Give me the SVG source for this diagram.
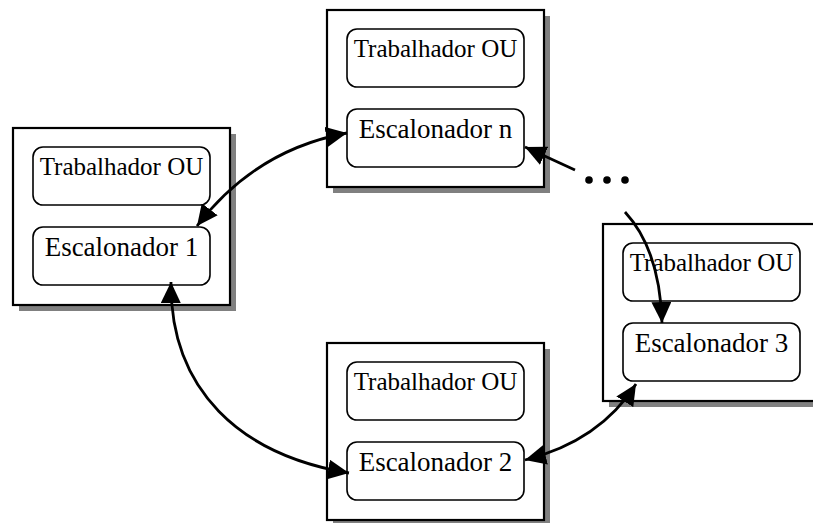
<svg xmlns="http://www.w3.org/2000/svg" width="813" height="523" viewBox="0 0 813 523">
  <defs>
    <style>
      .shadow { fill: #808080; stroke: none; }
      .frame { fill: #ffffff; stroke: #000000; stroke-width: 2.2; }
      .inner { fill: #ffffff; stroke: #000000; stroke-width: 1.6; }
      .worker { font-family: "Liberation Serif", "Times New Roman", serif; font-size: 25px; fill: #000000; text-anchor: middle; }
      .sched { font-family: "Liberation Serif", "Times New Roman", serif; font-size: 27px; fill: #000000; text-anchor: middle; }
      .link { fill: none; stroke: #000000; stroke-width: 2.8; }
      .dot { fill: #000000; }
    </style>
    <marker id="arrow" markerUnits="userSpaceOnUse" markerWidth="22" markerHeight="20" refX="21" refY="10" orient="auto-start-reverse">
      <path d="M0,0 L21,10 L0,20 Z" fill="#000000"/>
    </marker>
    <!-- one machine: framed block with a worker and a scheduler -->
    <g id="machine">
      <rect class="shadow" x="6" y="6" width="217" height="177"/>
      <rect class="frame" x="0" y="0" width="217" height="177"/>
      <rect class="inner" x="20" y="19" width="177" height="58" rx="10" ry="10"/>
      <rect class="inner" x="20" y="99" width="177" height="58" rx="10" ry="10"/>
      <text class="worker" x="108.5" y="47">Trabalhador OU</text>
    </g>
  </defs>

  <g id="node-1" transform="translate(13,128)">
    <use href="#machine"/>
    <text class="sched" x="108.5" y="128">Escalonador 1</text>
  </g>

  <g id="node-n" transform="translate(327,10)">
    <use href="#machine"/>
    <text class="sched" x="108.5" y="128">Escalonador n</text>
  </g>

  <g id="node-2" transform="translate(327,343)">
    <use href="#machine"/>
    <text class="sched" x="108.5" y="128">Escalonador 2</text>
  </g>

  <g id="node-3" transform="translate(603,224)">
    <use href="#machine"/>
    <text class="sched" x="108.5" y="128">Escalonador 3</text>
  </g>

  <g id="ellipsis">
    <circle class="dot" cx="589" cy="180" r="3.8"/>
    <circle class="dot" cx="607" cy="180" r="3.8"/>
    <circle class="dot" cx="625" cy="180" r="3.8"/>
  </g>

  <g id="connectors">
    <path class="link" d="M197,226 Q255,150 347,133" marker-start="url(#arrow)" marker-end="url(#arrow)"/>
    <path class="link" d="M171,282 C170,390 240,455 349,473" marker-start="url(#arrow)" marker-end="url(#arrow)"/>
    <path class="link" d="M525,460 Q600,441 636,384" marker-start="url(#arrow)" marker-end="url(#arrow)"/>
    <path class="link" d="M575,170 L525,147" marker-end="url(#arrow)"/>
    <path class="link" d="M625,212 Q660,250 662,323" marker-end="url(#arrow)"/>
  </g>
</svg>
